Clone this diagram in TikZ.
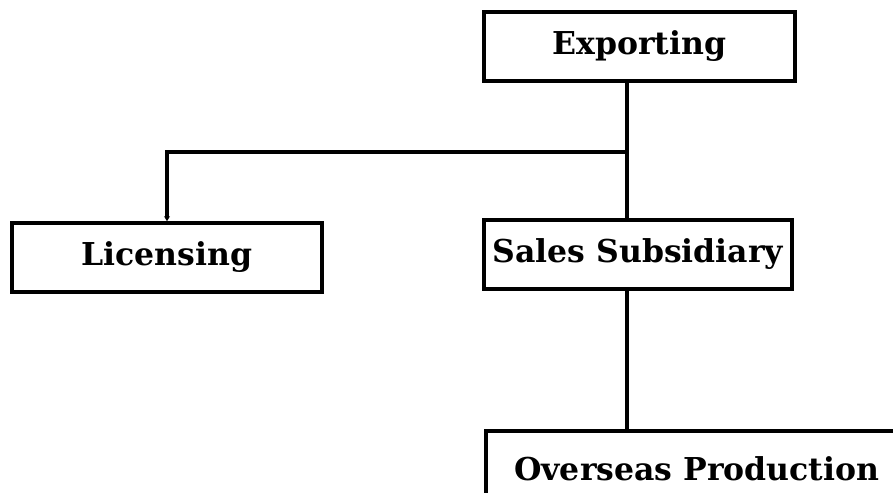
\documentclass[tikz,border=0pt]{standalone}
\usepackage{fontspec}
\setmainfont{DejaVu Serif}
\usetikzlibrary{arrows.meta}
\begin{document}
\begin{tikzpicture}[x=1pt,y=-1pt,line join=miter,
  box/.style={draw=black,line width=3.6pt,fill=white,minimum height=69pt,inner sep=0pt,
    font=\bfseries\fontsize{31.5}{36}\selectfont},
  link/.style={black,line width=3.6pt}]
  \useasboundingbox (0,0) rectangle (893,492);
  \clip (0,0) rectangle (893,492);

  % ===== boxes =====
  \node[box,minimum width=311pt] (exp) at (639.5,46.5) {Exporting};
  \node[box,minimum width=310pt] (lic) at (167,257.5) {Licensing};
  \node[box,minimum width=308pt] (sales) at (638,254.5) {Sales Subsidiary};
  \node[box,minimum width=440pt,minimum height=76pt,anchor=north west] (over) at (484,429) {\hspace*{-18pt}Overseas Production};

  % ===== connectors =====
  \coordinate (jn) at (627,152);
  \draw[link] (exp.south -| jn) -- (sales.north -| jn);
  \draw[link,-{Stealth[length=5pt,width=6pt]}] (jn) -| (lic.north);
  \draw[link] (sales.south -| jn) -- (over.north -| jn);
\end{tikzpicture}
\end{document}
